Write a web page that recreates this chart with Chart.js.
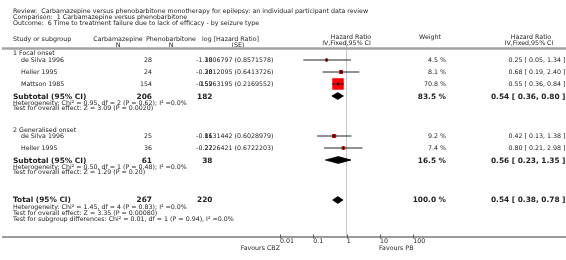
<!DOCTYPE html>
<html>
<head>
<meta charset="utf-8">
<script src="https://cdn.jsdelivr.net/npm/chart.js@4.4.0/dist/chart.umd.min.js"></script>
<style>
  html, body { margin: 0; padding: 0; background: #fff; }
  #wrap { position: relative; width: 566px; height: 260px; }
</style>
</head>
<body>
<div id="wrap"><canvas id="forest" width="566" height="260"></canvas></div>
<script>
const titleLines = [
  'Review:  Carbamazepine versus phenobarbitone monotherapy for epilepsy: an individual participant data review',
  'Comparison:  1 Carbamazepine versus phenobarbitone',
  'Outcome:  6 Time to treatment failure due to lack of efficacy - by seizure type'
];

const groupNames = ['1 Focal onset', '2 Generalised onset'];

// individual studies
const studyNames = ['de Silva 1996', 'Heller 1995', 'Mattson 1985', 'de Silva 1996', 'Heller 1995'];
const studyGroup = [0, 0, 0, 1, 1];
const cbzN = [28, 24, 154, 25, 36];
const pbN = [10, 20, 152, 11, 27];
const logHR = ['-1.3806797', '-0.3812095', '-0.5963195', '-0.8631442', '-0.2226421'];
const logSE = ['0.8571578', '0.6413726', '0.2169552', '0.6028979', '0.6722203'];
const weight = [4.5, 8.1, 70.8, 9.2, 7.4];
const hr = [0.25, 0.68, 0.55, 0.42, 0.80];
const hrLow = [0.05, 0.19, 0.36, 0.13, 0.21];
const hrHigh = [1.34, 2.40, 0.84, 1.38, 2.98];

// subtotals, one per group
const subCbzN = [206, 61];
const subPbN = [182, 38];
const subWeight = [83.5, 16.5];
const subHr = [0.54, 0.56];
const subLow = [0.36, 0.23];
const subHigh = [0.80, 1.35];
const subHet = [
  'Heterogeneity: Chi\u00b2 = 0.95, df = 2 (P = 0.62); I\u00b2 =0.0%',
  'Heterogeneity: Chi\u00b2 = 0.50, df = 1 (P = 0.48); I\u00b2 =0.0%'
];
const subTest = [
  'Test for overall effect: Z = 3.09 (P = 0.0020)',
  'Test for overall effect: Z = 1.29 (P = 0.20)'
];

// overall
const totCbzN = 267, totPbN = 220, totWeight = 100.0;
const totHr = 0.54, totLow = 0.38, totHigh = 0.78;
const totNotes = [
  'Heterogeneity: Chi\u00b2 = 1.45, df = 4 (P = 0.83); I\u00b2 =0.0%',
  'Test for overall effect: Z = 3.35 (P = 0.00080)',
  'Test for subgroup differences: Chi\u00b2 = 0.01, df = 1 (P = 0.94), I\u00b2 =0.0%'
];

const tickVals = [0.01, 0.1, 1, 10, 100];
const tickLabels = ['0.01', '0.1', '1', '10', '100'];
const favourLeft = 'Favours CBZ';
const favourRight = 'Favours PB';

// layout: rows are offsets (px) below the header rule
const groupRow = [5.5, 82];
const studyRow = [12, 24, 36, 88, 100];
const subRow = [48, 112];
const subNoteRow = [[55.3, 60.3], [119.3, 124.3]];
const totRow = 152;
const totNoteRow = [159.7, 165.3, 171];

const FONT = '"DejaVu Sans", Verdana, sans-serif';
const fNorm = '6.3px ' + FONT;
const fBold = 'bold 7.4px ' + FONT;
const textCol = '#222';
const ruleCol = '#a3a3a3';
const squareScale = 11.5 / Math.sqrt(70.8);
const diamondHalf = 3.4;

const fmt = v => v.toFixed(2);
const ciText = (e, l, h) => `${fmt(e)} [ ${fmt(l)}, ${fmt(h)} ]`;

const datasets = [];

// study squares
datasets.push({
  data: hr.map((v, i) => ({ x: v, y: studyRow[i] })),
  pointStyle: 'rect',
  pointRadius: weight.map(w => squareScale * Math.sqrt(w) / Math.SQRT2),
  backgroundColor: '#ff0000',
  borderWidth: 0,
  order: 3
});

// confidence interval whiskers
hr.forEach((v, i) => {
  datasets.push({
    data: [{ x: hrLow[i], y: studyRow[i] }, { x: hrHigh[i], y: studyRow[i] }],
    showLine: true,
    borderColor: '#222',
    borderWidth: 1,
    pointRadius: 0,
    order: 2
  });
});

// small tick at each point estimate
datasets.push({
  data: hr.map((v, i) => ({ x: v, y: studyRow[i] })),
  pointStyle: 'line',
  rotation: 90,
  pointRadius: 1.6,
  borderColor: '#000',
  borderWidth: 1,
  order: 1
});

// pooled diamonds
const diamonds = subHr.map((v, i) => [v, subLow[i], subHigh[i], subRow[i]]);
diamonds.push([totHr, totLow, totHigh, totRow]);
diamonds.forEach(([e, l, h, r]) => {
  datasets.push({
    data: [
      { x: l, y: r }, { x: e, y: r - diamondHalf }, { x: h, y: r },
      { x: e, y: r + diamondHalf }, { x: l, y: r }
    ],
    showLine: true,
    fill: 'shape',
    backgroundColor: '#000',
    borderColor: '#000',
    borderWidth: 0.8,
    pointRadius: 0,
    tension: 0,
    order: 1
  });
});

const tablePlugin = {
  id: 'tableText',
  afterDraw(chart) {
    const ctx = chart.ctx;
    const yS = chart.scales.y;
    const xS = chart.scales.x;
    const rowY = r => yS.getPixelForValue(r);
    const text = (s, x, y, align, bold) => {
      ctx.font = bold ? fBold : fNorm;
      ctx.fillStyle = textCol;
      ctx.textAlign = align || 'left';
      ctx.textBaseline = 'middle';
      ctx.fillText(s, x, y);
    };
    ctx.save();

    // title block
    [11.5, 17, 23].forEach((y, i) => text(titleLines[i], 13, y));

    // column headers
    text('Study or subgroup', 13, 39.5);
    text('Carbamazepine', 118, 39.5, 'center');
    text('N', 118, 45, 'center');
    text('Phenobarbitone', 171, 39.5, 'center');
    text('N', 171, 45, 'center');
    text('log [Hazard Ratio]', 230.5, 39.5, 'center');
    text('(SE)', 238, 45, 'center');
    text('Hazard Ratio', 351, 37, 'center');
    text('IV,Fixed,95% CI', 346.5, 43, 'center');
    text('Weight', 430, 37, 'center');
    text('Hazard Ratio', 531, 37, 'center');
    text('IV,Fixed,95% CI', 529, 43, 'center');

    // header rule
    ctx.strokeStyle = ruleCol;
    ctx.lineWidth = 2.4;
    ctx.beginPath();
    ctx.moveTo(2, rowY(0) + 0.5);
    ctx.lineTo(566, rowY(0) + 0.5);
    ctx.stroke();

    groupNames.forEach((g, gi) => {
      text(g, 13, rowY(groupRow[gi]));
      studyNames.forEach((name, i) => {
        if (studyGroup[i] !== gi) return;
        const y = rowY(studyRow[i]) + 0.5;
        text(name, 21, y);
        text(String(cbzN[i]), 152, y, 'right');
        text(`${logHR[i]} (${logSE[i]})`, 273.5, y, 'right');
        text(String(pbN[i]), 212.5, y, 'right');
        text(weight[i].toFixed(1) + ' %', 446, y, 'right');
        text(ciText(hr[i], hrLow[i], hrHigh[i]), 565.5, y, 'right');
      });
      const sy = rowY(subRow[gi]) + 0.8;
      text('Subtotal (95% CI)', 13, sy, 'left', true);
      text(String(subCbzN[gi]), 152, sy, 'right', true);
      text(String(subPbN[gi]), 212.5, sy, 'right', true);
      text(subWeight[gi].toFixed(1) + ' %', 446, sy, 'right', true);
      text(ciText(subHr[gi], subLow[gi], subHigh[gi]), 565.5, sy, 'right', true);
      text(subHet[gi], 13, rowY(subNoteRow[gi][0]));
      text(subTest[gi], 13, rowY(subNoteRow[gi][1]));
    });

    const ty = rowY(totRow) + 0.5;
    text('Total (95% CI)', 13, ty, 'left', true);
    text(String(totCbzN), 152, ty, 'right', true);
    text(String(totPbN), 212.5, ty, 'right', true);
    text(totWeight.toFixed(1) + ' %', 446, ty, 'right', true);
    text(ciText(totHr, totLow, totHigh), 565.5, ty, 'right', true);
    totNotes.forEach((s, i) => text(s, 13, rowY(totNoteRow[i])));

    // axis rule across the full width, with decade ticks
    const axisY = chart.chartArea.bottom + 1;
    ctx.strokeStyle = '#9a9a9a';
    ctx.lineWidth = 2;
    ctx.beginPath();
    ctx.moveTo(2, axisY);
    ctx.lineTo(566, axisY);
    ctx.stroke();
    ctx.strokeStyle = '#555';
    ctx.lineWidth = 1;
    tickVals.forEach(v => {
      const x = Math.round(xS.getPixelForValue(v)) + 0.5;
      ctx.beginPath();
      ctx.moveTo(x, axisY - 2.5);
      ctx.lineTo(x, axisY + 1.5);
      ctx.stroke();
    });
    text(favourLeft, 280, 248.3, 'right');
    text(favourRight, 379, 248.3, 'left');

    ctx.restore();
  }
};

new Chart(document.getElementById('forest'), {
  type: 'scatter',
  data: { datasets },
  options: {
    responsive: false,
    animation: false,
    events: [],
    layout: { padding: { left: 280, right: 566 - 413.33, top: 40, bottom: 0 } },
    plugins: { legend: { display: false }, tooltip: { enabled: false } },
    scales: {
      x: {
        type: 'logarithmic',
        min: 0.01,
        max: 100,
        position: 'bottom',
        afterBuildTicks: s => { s.ticks = tickVals.map(v => ({ value: v })); },
        afterFit: s => { s.height = 24; },
        border: { display: false },
        grid: {
          drawTicks: false,
          lineWidth: 1,
          color: c => (c.tick && c.tick.value === 1 ? '#c8c8c8' : 'rgba(0,0,0,0)')
        },
        ticks: {
          autoSkip: false,
          maxRotation: 0,
          align: 'start',
          padding: 1.5,
          color: textCol,
          font: { family: FONT, size: 6.3 },
          callback: (v, i) => tickLabels[i]
        }
      },
      y: {
        type: 'linear',
        display: false,
        reverse: true,
        min: -8,
        max: 188
      }
    }
  },
  plugins: [tablePlugin]
});
</script>
</body>
</html>
